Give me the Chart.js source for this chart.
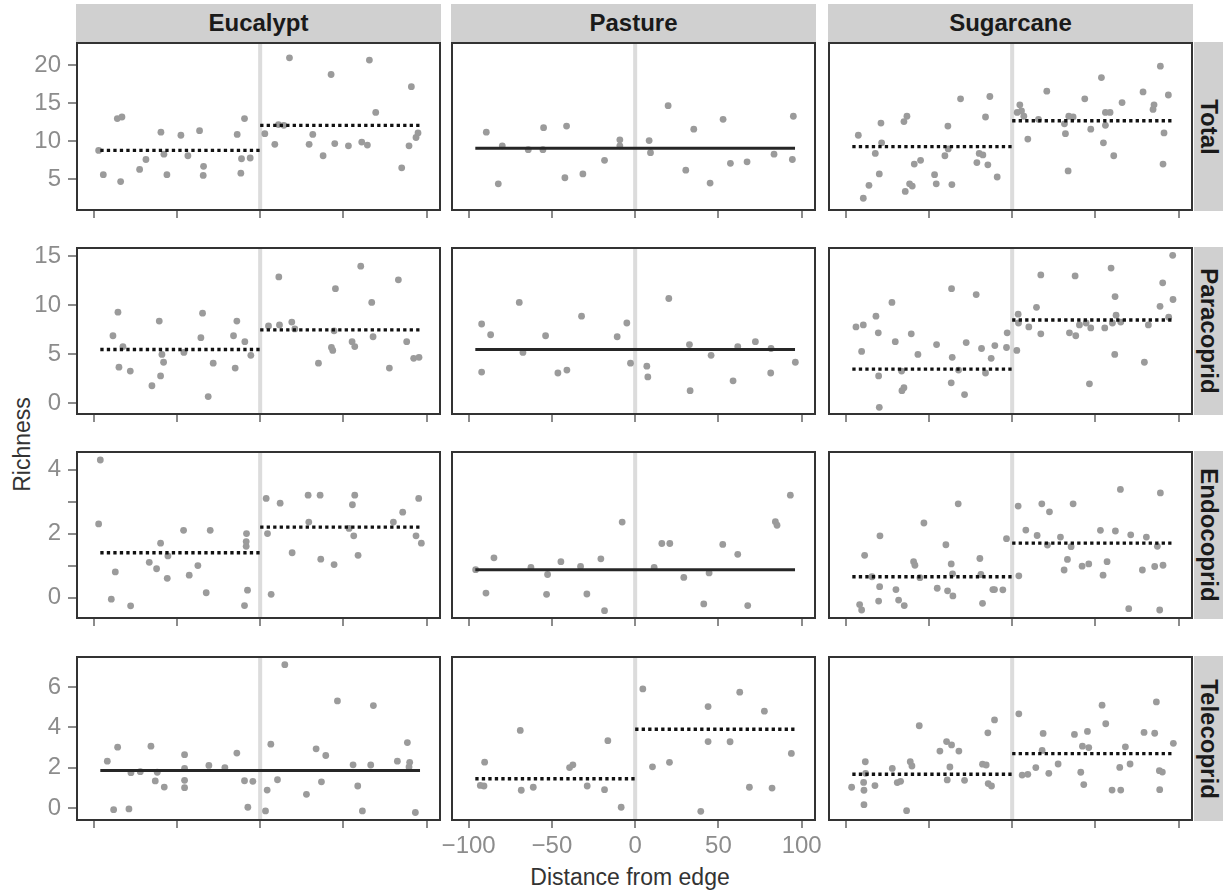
<!DOCTYPE html>
<html lang="en">
<head>
<meta charset="UTF-8">
<title>Richness vs distance from edge</title>
<script src="https://cdn.jsdelivr.net/npm/chart.js"></script>
<style>
  body { margin: 0; background: #fff; font-family: "Liberation Sans", Arial, sans-serif; }
  #fig { position: relative; width: 1227px; height: 890px; overflow: hidden; }
  .panel { position: absolute; }
  .strip { position: absolute; background: #d0d0d0; color: #1a1a1a; font-weight: bold; font-size: 24px;
           display: flex; align-items: center; justify-content: center; }
  .strip.side span { transform: rotate(90deg); white-space: nowrap; }
  .title { position: absolute; color: #333; font-size: 23px; white-space: nowrap; }
</style>
</head>
<body>
<div id="fig">
  <div class="title" id="xtitle" style="left:530px; top:864px; width:200px; text-align:center;">Distance from edge</div>
  <div class="title" id="ytitle" style="left:-38px; top:431px; width:120px; text-align:center; transform:rotate(-90deg);">Richness</div>
</div>

<script>
// facets
const habitats = ['Eucalypt', 'Pasture', 'Sugarcane'];
const groups = ['Total', 'Paracoprid', 'Endocoprid', 'Telecoprid'];

// axes
const xTicks = [-100, -50, 0, 50, 100];
const xTickLabels = ['\u2212100', '\u221250', '0', '50', '100'];
const xRange = [-110, 108];
const fitSpan = [-96, 0, 96];   // extent of fitted mean lines (edge at 0)

const yTicksTotal = [5, 10, 15, 20];
const yTickLabelsTotal = ['5', '10', '15', '20'];
const yRangeTotal = [0.95, 22.95];
const yTicksPara = [0, 5, 10, 15];
const yTickLabelsPara = ['0', '5', '10', '15'];
const yRangePara = [-1.08, 15.85];
const yTicksEndo = [0, 1, 2, 3, 4];
const yTickLabelsEndo = ['0', '', '2', '', '4'];
const yRangeEndo = [-0.64, 4.55];
const yTicksTele = [0, 2, 4, 6];
const yTickLabelsTele = ['0', '2', '4', '6'];
const yRangeTele = [-0.58, 7.48];

// ---- Total ----
const totalEucalyptX = [-97, -94.2, -85.8, -83, -83.8, -72.4, -68.6, -59.6, -57.8, -56, -47.6, -43.4, -36.4, -34, -34.2, -13.8, -9.4, -11.2, -6, -11.6, 2.8, 8.8, 11, 14.2, 17.6, 29.4, 31.6, 37.8, 42.6, 44.8, 53, 61, 64.4, 65.6, 69.4, 85, 89.4, 90.8, 93.6, 94.8];
const totalEucalyptY = [8.8, 5.6, 13.0, 13.2, 4.7, 6.3, 7.6, 11.2, 8.3, 5.6, 10.8, 8.1, 11.4, 6.7, 5.5, 10.9, 13.0, 7.7, 7.8, 5.8, 11.0, 9.6, 12.2, 12.1, 21.0, 9.6, 10.9, 8.1, 18.8, 9.7, 9.4, 9.9, 9.5, 20.7, 13.8, 6.5, 9.4, 17.2, 10.5, 11.1];
const totalEucalyptMean = [8.8, 12.1];

const totalPastureX = [-89.4, -79.8, -82.2, -64.2, -55, -55.4, -41.2, -42.2, -31.4, -18.4, -9.2, -9.2, 8.4, 9.2, 19.8, 30.4, 35.2, 45, 52.8, 57.2, 67.2, 83.4, 95, 94.4];
const totalPastureY = [11.2, 9.4, 4.4, 8.9, 11.8, 8.9, 12.0, 5.2, 5.7, 7.5, 10.2, 9.4, 10.1, 8.5, 14.7, 6.2, 11.6, 4.5, 12.9, 7.1, 7.3, 8.3, 13.3, 7.6];
const totalPastureMean = [9.1];

const totalSugarcaneX = [-92.4, -89.4, -86, -82.2, -79.8, -78.8, -78.4, -65, -63.2, -64.2, -61.6, -60, -58.8, -55, -46.6, -45.6, -40.4, -38.4, -38.6, -36.2, -31, -21.2, -19.8, -17.6, -16, -14.6, -13.4, -9, 3, 4.6, 5.6, 7, 9.4, 15.8, 20.8, 31.4, 32, 34, 36.6, 33.6, 43.6, 47.2, 53.6, 56, 58.8, 56, 54.8, 61, 66, 78.6, 84.6, 85.2, 89, 91.2, 90.6, 93.8];
const totalSugarcaneY = [10.8, 2.5, 4.2, 8.4, 5.7, 12.4, 9.8, 12.6, 13.3, 3.4, 4.4, 4.1, 7.0, 7.5, 5.6, 4.4, 8.1, 9.0, 12.0, 4.3, 15.6, 7.2, 8.4, 8.2, 13.2, 6.9, 15.9, 5.3, 13.8, 14.8, 14.0, 13.3, 10.3, 12.9, 16.6, 12.3, 11.0, 13.3, 13.2, 6.1, 15.6, 11.6, 18.4, 13.8, 13.8, 12.1, 9.8, 8.1, 15.1, 16.5, 14.2, 14.8, 19.9, 11.1, 7.0, 16.1];
const totalSugarcaneMean = [9.3, 12.7];

// ---- Paracoprid ----
const paraEucalyptX = [-88.4, -85.4, -84.8, -82.4, -78, -65, -60.6, -59, -58, -59.8, -45.8, -35.6, -34.6, -31.2, -28.2, -16, -14, -15, -9.2, -5.6, 5, 11.2, 11.6, 19, 20.8, 35, 42.8, 43.6, 44.4, 45.2, 55.2, 56.8, 60.4, 67, 67.8, 77.6, 83, 88, 92.2, 95.4];
const paraEucalyptY = [6.9, 9.3, 3.7, 5.8, 3.3, 1.8, 8.4, 5.0, 4.2, 2.8, 5.2, 6.7, 9.2, 0.7, 4.1, 6.9, 8.4, 3.6, 6.3, 4.9, 7.9, 12.9, 8.0, 8.3, 7.6, 4.1, 5.7, 5.4, 7.4, 11.7, 6.3, 5.8, 14.0, 10.3, 6.8, 3.6, 12.6, 6.3, 4.6, 4.7];
const paraEucalyptMean = [5.5, 7.5];

const paraPastureX = [-92.2, -86.8, -92.2, -69.6, -67.4, -53.8, -46.4, -41, -32.2, -10.8, -5, -2.8, 7, 7.6, 20.2, 32.6, 33, 45.6, 58.8, 61.6, 72.2, 81.6, 81.4, 96.2];
const paraPastureY = [8.1, 7.0, 3.2, 10.3, 5.2, 6.9, 3.1, 3.4, 8.9, 6.8, 8.2, 4.1, 3.8, 2.7, 10.7, 6.0, 1.3, 4.9, 2.3, 5.8, 6.3, 5.6, 3.1, 4.2];
const paraPastureMean = [5.5];

const paraSugarcaneX = [-93.8, -89.4, -90.4, -81.8, -80.4, -80.2, -79.8, -72.2, -70.2, -66.4, -66.2, -65, -60.6, -56.6, -45.4, -36.4, -36, -36.6, -32.2, -28.6, -27.6, -21.6, -18.4, -16, -12.6, -10.4, -3.4, -3, 2.8, 3.6, 3.8, 10, 14.6, 17.2, 17.2, 34.4, 38.2, 37.8, 40.4, 44.4, 47.2, 46.4, 55.6, 59.4, 61.8, 61.6, 62.4, 60.2, 65.2, 79.4, 81.8, 88.8, 90.4, 94, 96.6, 96.4];
const paraSugarcaneY = [7.8, 8.0, 5.3, 8.9, 7.2, 2.8, -0.4, 10.3, 6.3, 3.3, 1.3, 1.6, 7.1, 5.0, 6.0, 11.7, 4.7, 2.1, 3.4, 0.9, 6.2, 11.1, 5.6, 3.1, 4.6, 5.9, 5.7, 7.2, 5.4, 9.1, 8.2, 7.8, 9.8, 13.1, 7.1, 7.2, 6.9, 13.0, 8.0, 8.2, 7.7, 2.0, 7.7, 13.8, 10.9, 5.0, 9.0, 8.2, 8.3, 4.2, 8.0, 9.9, 12.3, 8.8, 10.6, 15.1];
const paraSugarcaneMean = [3.5, 8.5];

// ---- Endocoprid ----
const endoEucalyptX = [-96, -97, -87, -89.4, -77.8, -66.6, -62.2, -59.8, -55.4, -55.8, -46, -42.6, -37.4, -32.4, -30, -8.2, -8.4, -8.4, -7.6, -9.4, 3.6, 4.4, 6.6, 12, 19.2, 28.8, 29.2, 36, 36.4, 44.4, 53.4, 55.4, 56.8, 56.2, 58.8, 80, 85.6, 93.6, 95.2, 96.8];
const endoEucalyptY = [4.3, 2.3, 0.8, -0.05, -0.26, 1.1, 0.9, 1.7, 1.3, 0.6, 2.1, 0.7, 1.0, 0.15, 2.1, 2.0, 1.75, 1.6, 0.23, -0.25, 3.1, 2.0, 0.1, 2.95, 1.4, 3.2, 2.36, 3.2, 1.2, 1.03, 2.16, 2.9, 3.2, 1.93, 1.32, 2.36, 2.67, 1.93, 3.1, 1.7];
const endoEucalyptMean = [1.4, 2.2];

const endoPastureX = [-95.8, -89.6, -84.8, -62.6, -53.2, -52.6, -44.6, -32.8, -29, -20.6, -18.4, -7.8, 11.4, 16, 20.8, 29.2, 41.2, 44.4, 52.6, 61.6, 67.6, 84.2, 85.2, 93.2];
const endoPastureY = [0.87, 0.14, 1.24, 0.94, 0.1, 0.72, 1.12, 0.97, 0.11, 1.21, -0.41, 2.36, 0.94, 1.69, 1.69, 0.63, -0.2, 0.77, 1.66, 1.35, -0.25, 2.37, 2.26, 3.2];
const endoPastureMean = [0.87];

const endoSugarcaneX = [-91.6, -90.4, -88.6, -84.2, -79.6, -80.2, -79.4, -69.8, -68.2, -64.8, -59.2, -58.4, -55.4, -53, -45, -39.8, -38.8, -36.6, -35.8, -35.6, -32.4, -19.4, -18.8, -17.8, -11.6, -10.6, -5.6, -3.4, 3.6, 4, 8.2, 15, 17.8, 21.2, 22.4, 29, 31.2, 33.2, 35.4, 36.6, 42, 46, 53, 54.6, 57, 62, 65, 70, 71.2, 78.2, 80.6, 85.6, 87.2, 89, 88.6, 90.6];
const endoSugarcaneY = [-0.22, -0.39, 1.32, 0.65, 0.34, -0.11, 1.93, 0.25, -0.08, -0.25, 1.12, 1.01, 0.62, 2.33, 0.29, 1.65, 0.21, 1.05, 0.74, 0.05, 2.93, 1.22, 0.72, -0.18, 0.25, 0.25, 0.24, 1.84, 2.86, 0.68, 2.11, 1.94, 2.93, 1.64, 2.68, 1.89, 0.86, 1.19, 1.59, 2.93, 0.98, 1.05, 2.1, 0.7, 1.12, 2.08, 3.38, -0.35, 1.96, 0.86, 1.89, 0.97, 1.6, 3.27, -0.39, 1.01];
const endoSugarcaneMean = [0.65, 1.7];

// ---- Telecoprid ----
const teleEucalyptX = [-91.8, -88, -85.6, -78.8, -77.6, -72, -65.6, -63, -61.8, -57.6, -45.4, -45.4, -45.4, -45.4, -30.8, -21.2, -14, -9.4, -7.4, -4.4, 3.2, 4.2, 6.4, 10.4, 14.8, 27.8, 33.6, 36.8, 39.4, 46.4, 55.8, 58.6, 61.4, 66.4, 68, 82.4, 88.4, 89.8, 89.4, 93.2];
const teleEucalyptY = [2.33, -0.07, 3.02, -0.03, 1.76, 1.81, 3.07, 1.35, 1.78, 1.05, 2.65, 1.97, 1.38, 1.02, 2.12, 2.01, 2.73, 1.36, 0.05, 1.33, -0.13, 0.9, 3.17, 1.41, 7.1, 0.69, 2.94, 1.31, 2.61, 5.31, 2.15, 1.1, -0.13, 2.14, 5.08, 2.33, 3.25, 2.27, 2.04, -0.21];
const teleEucalyptMean = [1.87];

const telePastureX = [-93, -90.8, -90.4, -69, -68.4, -61.2, -39.4, -37.4, -28.8, -18.4, -16.4, -8.4, 4.6, 10.4, 20.6, 39.4, 43.8, 43.8, 57, 62.8, 68.6, 77.6, 82.2, 93.8];
const telePastureY = [1.13, 1.1, 2.28, 3.85, 0.89, 1.04, 2.01, 2.15, 1.1, 0.92, 3.34, 0.05, 5.9, 2.05, 2.27, -0.15, 5.03, 3.3, 3.29, 5.74, 1.04, 4.8, 1.0, 2.71];
const telePastureMean = [1.46, 3.91];

const teleSugarcaneX = [-96.4, -89.2, -89, -89, -88.2, -88, -82.4, -72, -69, -67, -63.4, -61.2, -60.2, -55.8, -43.4, -39.4, -36.4, -37.4, -39, -32, -28.6, -17.8, -15.6, -14.6, -14.4, -12.4, -10.6, 4, 6, 9.4, 14.2, 18, 18.6, 22, 27.6, 37.4, 41.2, 42.2, 43, 45.2, 46, 54, 56.2, 60, 64.6, 65.2, 68, 70.8, 79.2, 85.6, 86.6, 88.4, 90.2, 88.6, 96.8];
const teleSugarcaneY = [1.04, 1.28, 0.89, 0.18, 2.3, 1.73, 1.12, 1.97, 1.27, 1.33, -0.12, 2.3, 2.09, 4.08, 2.83, 3.3, 3.13, 2.04, 1.4, 2.83, 1.38, 2.18, 2.14, 3.73, 1.22, 1.1, 4.37, 4.67, 1.64, 1.68, 2.01, 2.86, 3.7, 1.73, 2.19, 3.65, 1.78, 3.07, 1.17, 3.8, 3.0, 5.1, 4.18, 0.9, 2.02, 0.9, 3.04, 2.19, 3.75, 3.71, 5.26, 1.86, 1.79, 0.92, 3.21];
const teleSugarcaneMean = [1.68, 2.7];

// lookup tables built from the arrays above
const seriesX = [
  [totalEucalyptX, totalPastureX, totalSugarcaneX],
  [paraEucalyptX, paraPastureX, paraSugarcaneX],
  [endoEucalyptX, endoPastureX, endoSugarcaneX],
  [teleEucalyptX, telePastureX, teleSugarcaneX]
];
const seriesY = [
  [totalEucalyptY, totalPastureY, totalSugarcaneY],
  [paraEucalyptY, paraPastureY, paraSugarcaneY],
  [endoEucalyptY, endoPastureY, endoSugarcaneY],
  [teleEucalyptY, telePastureY, teleSugarcaneY]
];
const seriesMean = [
  [totalEucalyptMean, totalPastureMean, totalSugarcaneMean],
  [paraEucalyptMean, paraPastureMean, paraSugarcaneMean],
  [endoEucalyptMean, endoPastureMean, endoSugarcaneMean],
  [teleEucalyptMean, telePastureMean, teleSugarcaneMean]
];
const rowTicks = [yTicksTotal, yTicksPara, yTicksEndo, yTicksTele];
const rowTickLabels = [yTickLabelsTotal, yTickLabelsPara, yTickLabelsEndo, yTickLabelsTele];
const rowRange = [yRangeTotal, yRangePara, yRangeEndo, yRangeTele];

// layout (pixels)
const colLeft = [77, 452, 829];
const colWidth = 363;
const rowTop = [43, 248, 452, 657];
const rowHeight = [167, 166, 166, 163];

const tickFont = { family: '"Liberation Sans", Arial, sans-serif', size: 24 };
const tickColor = '#8c8c8c';
const fig = document.getElementById('fig');

// grey line at the edge + dark frame round each panel
const panelFrame = {
  id: 'panelFrame',
  beforeDatasetsDraw(chart) {
    const { ctx, chartArea: a } = chart;
    const px = chart.scales.x.getPixelForValue(0);
    ctx.save();
    ctx.strokeStyle = '#dcdcdc';
    ctx.lineWidth = 4;
    ctx.beginPath();
    ctx.moveTo(px, a.top);
    ctx.lineTo(px, a.bottom);
    ctx.stroke();
    ctx.restore();
  },
  afterDraw(chart) {
    const { ctx, chartArea: a } = chart;
    ctx.save();
    ctx.strokeStyle = '#333';
    ctx.lineWidth = 2;
    ctx.strokeRect(a.left, a.top, a.right - a.left, a.bottom - a.top);
    ctx.restore();
  }
};

function meanDatasets(means) {
  if (means.length === 1) {
    return [{
      data: [{ x: fitSpan[0], y: means[0] }, { x: fitSpan[2], y: means[0] }],
      showLine: true, pointRadius: 0, borderColor: '#262626', borderWidth: 3, order: 0
    }];
  }
  return [
    { data: [{ x: fitSpan[0], y: means[0] }, { x: fitSpan[1], y: means[0] }] },
    { data: [{ x: fitSpan[1], y: means[1] }, { x: fitSpan[2], y: means[1] }] }
  ].map(d => Object.assign(d, {
    showLine: true, pointRadius: 0, borderColor: '#111', borderWidth: 3.4,
    borderDash: [3.3, 3.2], order: 0
  }));
}

function drawPanel(r, c) {
  const L = colLeft[c], T = rowTop[r], W = colWidth, H = rowHeight[r];
  const hasY = c === 0;
  const hasXLabels = r === 3 && c === 1;
  const padL = hasY ? 0 : (hasXLabels ? 40 : 4);
  const yW = hasY ? L : 0;
  const padR = hasXLabels ? 40 : 4;
  const padT = 4;
  const xH = hasXLabels ? 50 : 12;
  const left = hasY ? 0 : L - padL;
  const cw = padL + yW + W + padR;
  const ch = padT + H + xH;

  const box = document.createElement('div');
  box.className = 'panel';
  box.style.cssText = `left:${left}px;top:${T - padT}px;width:${cw}px;height:${ch}px;`;
  const cv = document.createElement('canvas');
  cv.width = cw; cv.height = ch;
  cv.style.width = cw + 'px'; cv.style.height = ch + 'px';
  box.appendChild(cv);
  fig.appendChild(box);

  const xs = seriesX[r][c], ys = seriesY[r][c];
  const points = {
    data: xs.map((x, i) => ({ x: x, y: ys[i] })),
    pointRadius: 3.4, pointBackgroundColor: '#9b9b9b', pointBorderWidth: 0,
    showLine: false, order: 1
  };

  new Chart(cv.getContext('2d'), {
    type: 'scatter',
    data: { datasets: [points].concat(meanDatasets(seriesMean[r][c])) },
    options: {
      responsive: false,
      animation: false,
      events: [],
      layout: { padding: { left: padL, right: padR, top: padT, bottom: 0 } },
      plugins: { legend: { display: false }, tooltip: { enabled: false } },
      scales: {
        x: {
          type: 'linear', min: xRange[0], max: xRange[1],
          afterBuildTicks: s => { s.ticks = xTicks.map(v => ({ value: v })); },
          afterFit: s => { s.height = xH; s.paddingLeft = 0; s.paddingRight = 0; },
          grid: { drawOnChartArea: false, drawTicks: true, tickLength: 8, color: tickColor, lineWidth: 2 },
          border: { display: false },
          ticks: {
            display: hasXLabels, autoSkip: false, maxRotation: 0, padding: 4,
            color: tickColor, font: tickFont,
            callback: (v, i) => xTickLabels[i]
          }
        },
        y: {
          type: 'linear', display: hasY,
          min: rowRange[r][0], max: rowRange[r][1],
          afterBuildTicks: s => { s.ticks = rowTicks[r].map(v => ({ value: v })); },
          afterFit: s => { s.width = yW; s.paddingTop = 0; s.paddingBottom = 0; },
          grid: { drawOnChartArea: false, drawTicks: true, tickLength: 9, color: tickColor, lineWidth: 2 },
          border: { display: false },
          ticks: {
            autoSkip: false, padding: 7, color: tickColor, font: tickFont,
            callback: (v, i) => rowTickLabels[r][i]
          }
        }
      }
    },
    plugins: [panelFrame]
  });
}

// strips
habitats.forEach((h, c) => {
  const d = document.createElement('div');
  d.className = 'strip';
  d.style.cssText = `left:${colLeft[c] - 1}px;top:4px;width:${colWidth + 2}px;height:38px;`;
  d.textContent = h;
  fig.appendChild(d);
});
groups.forEach((g, r) => {
  const d = document.createElement('div');
  d.className = 'strip side';
  d.style.cssText = `left:1194px;top:${rowTop[r] - 1}px;width:29px;height:${rowHeight[r] + 2}px;`;
  const s = document.createElement('span');
  s.textContent = g;
  d.appendChild(s);
  fig.appendChild(d);
});

for (let r = 0; r < groups.length; r++) {
  for (let c = 0; c < habitats.length; c++) drawPanel(r, c);
}
</script>
</body>
</html>
